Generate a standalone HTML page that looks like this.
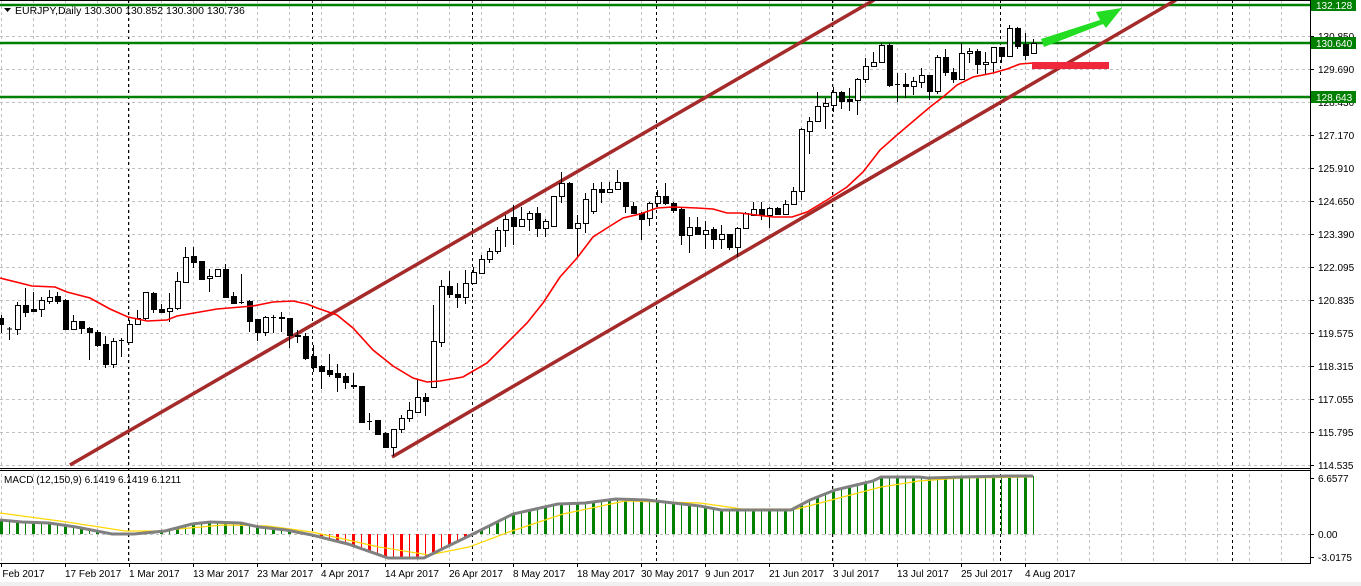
<!DOCTYPE html>
<html><head><meta charset="utf-8"><style>
html,body{margin:0;padding:0;background:#fff;overflow:hidden}
svg{display:block;font-family:"Liberation Sans",sans-serif}
</style></head><body>
<svg id="s" width="1361" height="586" xmlns="http://www.w3.org/2000/svg"></svg>
<script>
var S=document.getElementById('s'),h='';
function L(x1,y1,x2,y2,c,w,d){h+='<line x1="'+x1+'" y1="'+y1+'" x2="'+x2+'" y2="'+y2+'" stroke="'+c+'" stroke-width="'+w+'"'+(d?' stroke-dasharray="'+d+'"':'')+'/>';}
function T(x,y,t,s,c,a){h+='<text x="'+x+'" y="'+y+'" font-size="'+(s||10)+'" fill="'+(c||'#000')+'"'+(a?' text-anchor="'+a+'"':'')+'>'+t+'</text>';}
for(var x=1;x<1310;x+=32){L(x+.5,0,x+.5,563,'#c0c0c0',1,'3,3');}
[128,312,472,656,832,1000,1232].forEach(function(x){L(x+.5,0,x+.5,563,'#000',1,'3,3');});
for(var y=36;y<=465;y+=33){L(0,y+.5,1310,y+.5,'#c0c0c0',1,'3,3');}
L(0,534.5,1310,534.5,'#c0c0c0',1,'3,3');
[5,43,97].forEach(function(y){L(0,y,1310,y,'#008000',2.5);});
L(70,465,874,0,'#a52a2a',3.5);
L(392,457,1176,0,'#a52a2a',3.5);
var C=[[318,324,315,333],[328.5,328.5,327,340],[329,305,302,335],[305,312,288,317],[309,311,292,312],[309,300,297,317],[301,297,290,304],[296,301,292,304],[300,329,299,330],[329,321,315,330],[321,328,321,334],[328,332,327,360],[332,345,330,347],[344,364,336,368],[364,341,338,368],[340,340,338,357],[342,324,320,343],[324,318,310,324],[318,292,292,320],[293,309,292,313],[309,312,304,313],[311,308,293,322],[308,281,272,310],[282,257,247,283],[256,262,247,268],[261,279,261,280],[278,276,269,292],[276,269,269,277],[269,297,264,297],[296,303,292,304],[302,302,274,304],[301,321,300,332],[319,332,319,341],[332,317,316,336],[317,317,315,333],[317,318,312,332],[318,335,318,348],[335,336,330,343],[336,358,333,360],[356,367,345,372],[366,371,365,389],[370,374,354,377],[373,377,364,392],[376,382,373,389],[385,386,373,389],[386,422,386,422],[421,421,413,430],[420,434,420,434],[433,447,432,448],[447,429,429,456],[429,418,415,433],[418,410,402,422],[412,397,379,413],[397,401,393,416],[387,341,305,388],[342,286,280,347],[286,294,271,298],[294,297,283,308],[297,283,270,304],[283,272,267,283],[273,259,255,273],[259,251,248,263],[251,230,227,254],[230,219,215,247],[217,226,205,245],[226,219,207,227],[219,213,211,231],[213,228,207,237],[228,221,219,237],[226,196,196,226],[196,183,172,203],[183,228,182,228],[228,223,215,257],[223,199,193,233],[211,189,183,214],[189,192,182,203],[192,189,182,193],[189,182,170,190],[182,206,182,213],[206,213,202,213],[213,219,212,240],[218,203,202,226],[203,196,190,207],[196,203,183,205],[203,210,202,213],[209,235,207,245],[235,227,217,253],[227,234,217,234],[234,230,221,249],[229,239,227,249],[239,234,225,249],[234,247,234,250],[247,228,227,257],[228,213,212,228],[215,209,202,216],[209,215,202,220],[215,208,207,228],[208,214,207,215],[214,204,200,215],[204,191,187,205],[191,129,128,200],[131,121,117,154],[121,106,92,122],[106,103,98,129],[105,92,87,112],[92,101,91,109],[99,101,88,111],[100,79,78,115],[79,66,58,83],[66,62,52,67],[62,45,43,63],[45,85,43,87],[84,84,73,102],[84,86,73,98],[86,81,77,95],[82,75,68,88],[75,91,75,100],[91,57,55,94],[57,72,49,76],[72,79,68,83],[79,53,43,80],[53,51,48,63],[51,64,49,74],[64,62,52,74],[62,47,47,72],[47,56,47,63],[56,28,25,56],[28,46,27,49],[44,55,33,60],[53,43,39,54]];
C.forEach(function(c,i){var x=1+8*i;L(x+.5,c[2],x+.5,c[3],'#000',1);
 var t=Math.min(c[0],c[1]),b=Math.max(c[0],c[1]);if(b-t<1){L(x-2,t+.5,x+3,t+.5,'#000',1);return;}
 var bear=c[1]>c[0];h+='<rect x="'+(x-2)+'.5" y="'+t+'.5" width="5" height="'+(b-t)+'" fill="'+(bear?'#000':'#fff')+'" stroke="#000" stroke-width="1"/>';});
var ma=[[0,278],[32,286],[55,287],[67,292],[90,298],[110,309],[128,317],[147,321],[167,320],[177,316],[217,309],[253,306],[273,302],[293,301],[307,304],[317,308],[337,315],[353,328],[373,350],[393,366],[413,378],[427,382],[440,381],[463,377],[487,363],[507,343],[527,323],[543,303],[560,277],[577,258],[593,237],[607,228],[623,218],[640,214],[657,208],[673,207],[697,208],[713,209],[727,213],[740,213],[773,217],[792,217],[807,212],[827,200],[847,187],[863,172],[880,150],[897,135],[917,118],[930,107],[943,97],[957,85],[973,77],[993,73],[1007,69],[1020,64],[1033,63]];
h+='<polyline fill="none" stroke="#ff0000" stroke-width="1.6" points="'+ma.join(' ')+'"/>';
h+='<rect x="1032" y="62" width="77" height="7" fill="#f0283c"/>';
h+='<polygon points="1041,39 1100,20 1096,12 1122,8 1106,28 1103,24 1044,47" fill="#22dd22"/>';
L(0,468.5,1310,468.5,'#000',1);L(0,470.5,1310,470.5,'#000',1);
var g=[[0,520],[22,522],[49,523],[76,527],[112,534],[134,534],[165,531],[192,524],[210,522],[241,523],[259,527],[286,530],[312,535],[348,544],[388,558],[424,558],[442,549],[473,534],[513,514],[558,504],[585,503],[616,499],[647,500],[700,506],[721,510],[767,510],[791,510],[810,500],[835,490],[852,486],[873,481],[881,477],[919,477],[928,478],[961,477],[1008,476],[1033,476]];
function interp(a,x){for(var i=1;i<a.length;i++){if(x<=a[i][0]){var p=a[i-1],q=a[i];return p[1]+(q[1]-p[1])*(x-p[0])/(q[0]-p[0]);}}return a[a.length-1][1];}
for(var i=0;i<130;i++){var x=1+8*i,v=interp(g,x);var col=v>534?'#ff0000':'#008000';
 var hh=Math.abs(v-534);if(hh<1)continue;var w=(i%2==0)?3:1;
 h+='<rect x="'+(w==3?x-1:x)+'" y="'+Math.min(v,534)+'" width="'+w+'" height="'+hh+'" fill="'+col+'"/>';}
var sg=[[0,513],[67,522],[125,531],[156,531],[223,525],[268,526],[312,532],[379,547],[429,555],[469,547],[509,532],[563,514],[625,501],[700,503],[742,509],[797,509],[839,498],[881,487],[919,481],[961,478],[1033,477]];
h+='<polyline fill="none" stroke="#ffd700" stroke-width="1.2" points="'+sg.join(' ')+'"/>';
h+='<polyline fill="none" stroke="#808080" stroke-width="3" points="'+g.join(' ')+'"/>';
L(1310.5,0,1310.5,564,'#000',1);L(0,563.5,1311,563.5,'#000',1);
L(0,0.5,1310,0.5,'#000',1);
var pl=['130.850','129.690','128.430','127.170','125.910','124.650','123.390','122.095','120.835','119.575','118.315','117.055','115.795','114.535'];
pl.forEach(function(t,k){var y=36+33*k;L(1310,y+.5,1314,y+.5,'#000',1);T(1318,y+4,t);});
[[478,'6.6577'],[534,'0.00'],[557,'-3.0175']].forEach(function(a){L(1310,a[0]+.5,1314,a[0]+.5,'#000',1);T(1318,a[0]+4,a[1]);});
[[5,'132.128'],[43,'130.640'],[97,'128.643']].forEach(function(a){h+='<rect x="1311" y="'+(a[0]-6)+'" width="45" height="12" fill="#008000"/>';T(1316,a[0]+4,a[1],10,'#fff');});
var d=['7 Feb 2017','17 Feb 2017','1 Mar 2017','13 Mar 2017','23 Mar 2017','4 Apr 2017','14 Apr 2017','26 Apr 2017','8 May 2017','18 May 2017','30 May 2017','9 Jun 2017','21 Jun 2017','3 Jul 2017','13 Jul 2017','25 Jul 2017','4 Aug 2017'];
d.forEach(function(t,k){var x=1+64*k;L(x+.5,563,x+.5,567,'#000',1);T(k==0?-6:x,577,t);});
h+='<rect x="0" y="582" width="1361" height="4" fill="#f0f0f0"/>';
h+='<polygon points="4,8 11,8 7.5,12" fill="#000"/>';
T(15,14,'EURJPY,Daily  130.300 130.852 130.300 130.736',10.5);
T(4,483,'MACD (12,150,9) 6.1419 6.1419 6.1211',10);
S.innerHTML=h;
</script>
</body></html>
